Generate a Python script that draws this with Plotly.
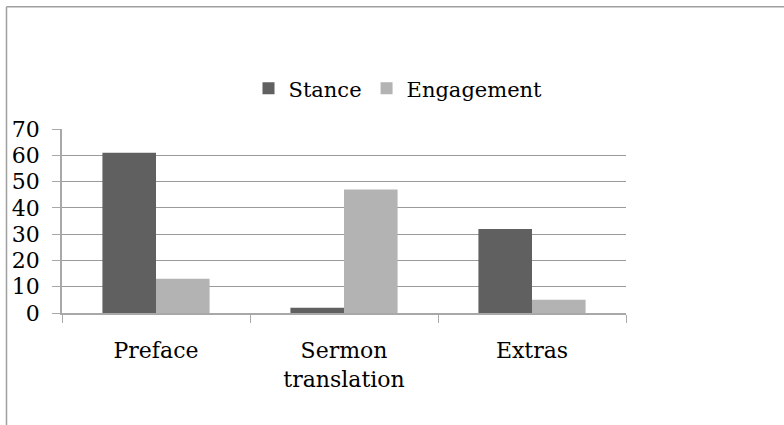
import plotly.graph_objects as go

categories = ["Preface", "Sermon<br>translation", "Extras"]
stance = [61, 2, 32]
engagement = [13, 47, 5]
y_ticks = [0, 10, 20, 30, 40, 50, 60, 70]

W, H = 784, 425
L, R, T, B = 62, 158, 128.5, 111.5
pw, ph = W - L - R, H - T - B

def px_x(p):
    return (p - L) / pw

def px_y(p):
    return (H - B - p) / ph

FONT = "DejaVu Serif"

fig = go.Figure()
fig.add_trace(go.Bar(name="Stance", x=categories, y=stance, marker_color="#606060",
                     marker_line_width=0))
fig.add_trace(go.Bar(name="Engagement", x=categories, y=engagement, marker_color="#b3b3b3",
                     marker_line_width=0))

fig.update_layout(
    width=W, height=H,
    margin=dict(l=L, r=R, t=T, b=B, autoexpand=False),
    paper_bgcolor="white", plot_bgcolor="white",
    barmode="group", bargap=0.43, bargroupgap=0,
    font=dict(family=FONT, size=22, color="black"),
    showlegend=True,
    legend=dict(orientation="h", x=px_x(398), y=px_y(88), xanchor="center", yanchor="middle",
                font=dict(family=FONT, size=21, color="black"), itemwidth=30,
                bgcolor="rgba(0,0,0,0)"),
    xaxis=dict(showgrid=False, showline=True, linecolor="#a8a8a8", linewidth=1.5,
               ticks="outside", tickson="boundaries", ticklen=8, tickcolor="#a8a8a8",
               tickfont=dict(family=FONT, size=22, color="black"), ticklabelstandoff=17,
               fixedrange=True),
    yaxis=dict(range=[0, 70], tickvals=y_ticks, showgrid=True, gridcolor="#9a9a9a",
               gridwidth=1, showline=True, linecolor="#a8a8a8", linewidth=1.5,
               ticks="outside", ticklen=8, tickcolor="#a8a8a8", zeroline=False,
               tickfont=dict(family=FONT, size=22, color="black"), ticklabelstandoff=8,
               fixedrange=True),
    shapes=[
        dict(type="line", xref="paper", yref="paper", x0=px_x(6.5), x1=px_x(790),
             y0=px_y(5.5), y1=px_y(5.5), line=dict(color="#a0a0a0", width=1.5)),
        dict(type="line", xref="paper", yref="paper", x0=px_x(6.5), x1=px_x(6.5),
             y0=px_y(5.5), y1=px_y(430), line=dict(color="#a0a0a0", width=1.5)),
    ],
)

fig.write_html("out.html", config={"displayModeBar": False},
               post_script="document.body.style.margin='0';")
